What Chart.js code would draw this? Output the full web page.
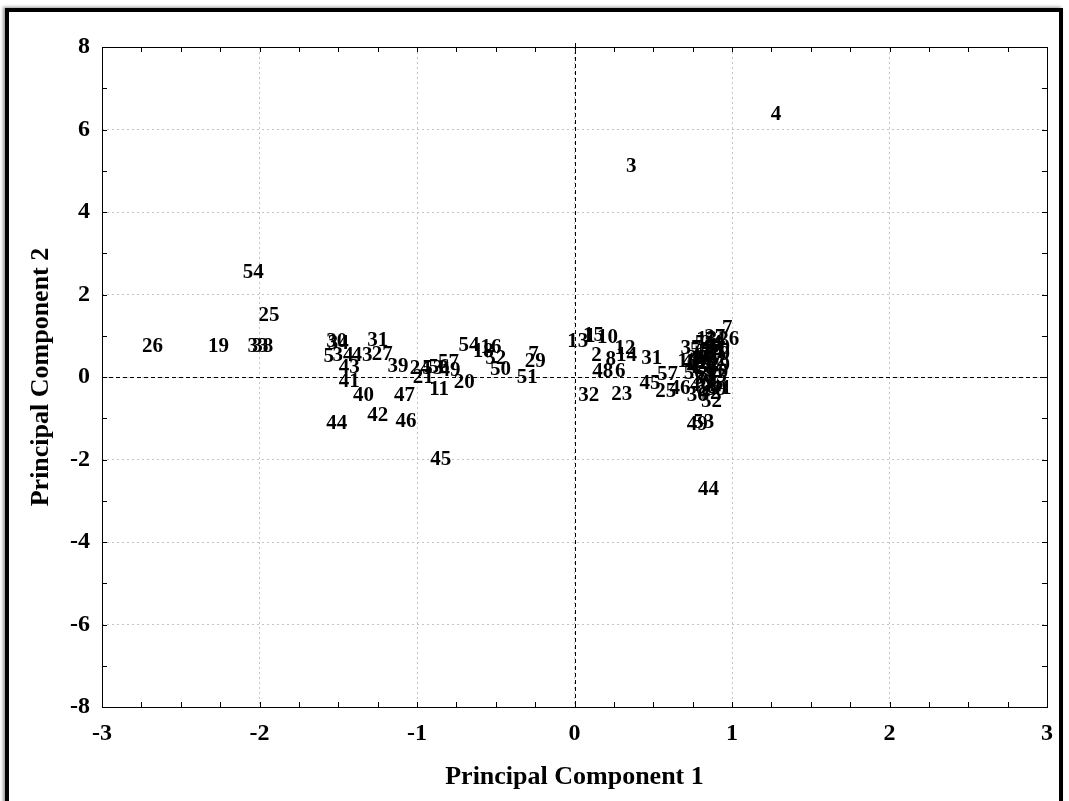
<!DOCTYPE html>
<html>
<head>
<meta charset="utf-8">
<script src="https://cdn.jsdelivr.net/npm/chart.js@4.4.1/dist/chart.umd.min.js"></script>
<style>
    html, body { margin: 0; padding: 0; background: #fff; }
    #frame {
        position: absolute; left: 5px; top: 8px; width: 1050px; height: 800px;
        border: 4px solid #000; box-shadow: -2px -1px 3px #999;
    }
    #wrap { position: absolute; left: 0; top: 0; width: 1069px; height: 801px; }
</style>
</head>
<body>
<div id="frame"></div>
<div id="wrap"><canvas id="pcaChart"></canvas></div>
<script>
// sample numbers as printed on the plot
var pointLabels = [
    "26", "19", "33", "38", "54", "25", "30", "34", "5", "34", "43", "27", "31",
    "43", "41", "40", "44", "42", "47", "46", "45", "39", "24", "21", "53", "56",
    "49", "57", "11", "20", "54", "18", "16", "52", "50", "7", "29", "51",
    "4", "3", "13", "1", "15", "10", "2", "8", "12", "14", "48", "6", "32", "23",
    "31", "45", "57", "25", "46", "7", "27", "26", "37", "18", "36", "52", "49",
    "53", "44",
    "5", "9", "11", "16", "17", "19", "20", "21", "22", "24", "28", "29", "30", "37",
    "33", "34", "35", "38", "39", "40", "41", "42", "43", "47", "50", "51", "54",
    "55", "56", "1", "10", "13", "14", "15"
];
var pc1 = [
    -2.68, -2.26, -2.01, -1.98, -2.04, -1.94, -1.51, -1.50, -1.56, -1.47, -1.35, -1.22, -1.25,
    -1.43, -1.43, -1.34, -1.51, -1.25, -1.08, -1.07, -0.85, -1.12, -0.98, -0.96, -0.90, -0.86,
    -0.79, -0.80, -0.86, -0.70, -0.67, -0.58, -0.53, -0.50, -0.47, -0.26, -0.25, -0.30,
    1.28, 0.36, 0.02, 0.10, 0.12, 0.21, 0.14, 0.23, 0.32, 0.33, 0.18, 0.29, 0.09, 0.30,
    0.49, 0.48, 0.59, 0.58, 0.67, 0.97, 0.89, 0.98, 0.74, 0.72, 0.78, 0.87, 0.78,
    0.82, 0.85,
    0.82, 0.86, 0.90, 0.84, 0.88, 0.92, 0.80, 0.85, 0.90, 0.87, 0.83, 0.92, 0.78, 0.85,
    0.90, 0.82, 0.88, 0.84, 0.90, 0.80, 0.93, 0.86, 0.78, 0.75, 0.92, 0.83, 0.89,
    0.80, 0.76, 0.86, 0.91, 0.84, 0.88, 0.81
];
var pc2 = [
    0.73, 0.73, 0.73, 0.73, 2.52, 1.48, 0.86, 0.82, 0.50, 0.53, 0.53, 0.55, 0.88,
    0.24, -0.10, -0.44, -1.14, -0.93, -0.44, -1.07, -2.00, 0.26, 0.20, -0.02, 0.20, 0.22,
    0.15, 0.35, -0.30, -0.13, 0.75, 0.62, 0.72, 0.45, 0.19, 0.55, 0.38, -0.02,
    6.35, 5.11, 0.87, 0.97, 1.00, 0.95, 0.53, 0.42, 0.68, 0.53, 0.12, 0.12, -0.44, -0.42,
    0.44, -0.16, 0.05, -0.36, -0.28, 1.17, 0.95, 0.90, 0.68, 0.38, -0.45, -0.60, -1.15,
    -1.10, -2.72,
    0.60, 0.70, 0.62, 0.48, 0.50, 0.55, 0.35, 0.32, 0.40, 0.80, 0.20, 0.28, 0.45, 0.05,
    0.00, -0.05, -0.15, -0.25, -0.30, -0.20, -0.28, -0.40, 0.22, 0.35, 0.72, 0.82, 0.88,
    0.65, 0.08, 0.15, 0.10, 0.90, 0.60, 0.45
];

var xTickValues = [-3, -2, -1, 0, 1, 2, 3];
var yTickValues = [-8, -6, -4, -2, 0, 2, 4, 6, 8];

var serif = '"Liberation Serif", "Times New Roman", serif';

var points = pc1.map(function (v, i) { return { x: v, y: pc2[i] }; });

// riquadro, tacche interne, assi dello zero e numeri dei campioni
var pcaOverlay = {
    id: "pcaOverlay",
    afterDatasetsDraw: function (chart) {
        var ctx = chart.ctx;
        var a = chart.chartArea;
        var xs = chart.scales.x, ys = chart.scales.y;
        ctx.save();
        ctx.strokeStyle = "#000";
        ctx.lineWidth = 1;

        function seg(x1, y1, x2, y2) {
            ctx.beginPath();
            ctx.moveTo(x1, y1);
            ctx.lineTo(x2, y2);
            ctx.stroke();
        }

        // dashed zero lines
        ctx.setLineDash([4, 3]);
        var x0 = Math.round(xs.getPixelForValue(0)) + 0.5;
        var y0 = Math.round(ys.getPixelForValue(0)) + 0.5;
        seg(x0, a.top - 4, x0, a.bottom);
        seg(a.left, y0, a.right, y0);
        ctx.setLineDash([]);

        // minor tick marks pointing inward on all four sides
        var t = 5;
        for (var v = -3; v <= 3.0001; v += 0.25) {
            var px = Math.round(xs.getPixelForValue(v)) + 0.5;
            seg(px, a.top, px, a.top + t);
            seg(px, a.bottom, px, a.bottom - t);
        }
        for (var w = -8; w <= 8; w += 1) {
            var py = Math.round(ys.getPixelForValue(w)) + 0.5;
            seg(a.left, py, a.left + t, py);
            seg(a.right, py, a.right - t, py);
        }

        ctx.strokeRect(Math.round(a.left) + 0.5, Math.round(a.top) + 0.5,
            Math.round(a.width), Math.round(a.height));

        // sample labels
        ctx.fillStyle = "#000";
        ctx.font = "bold 21px " + serif;
        ctx.textAlign = "center";
        ctx.textBaseline = "middle";
        var meta = chart.getDatasetMeta(0);
        meta.data.forEach(function (pt, i) {
            ctx.fillText(pointLabels[i], pt.x, pt.y);
        });
        ctx.restore();
    }
};

var chart = new Chart(document.getElementById("pcaChart"), {
    type: "scatter",
    data: {
        datasets: [{
            data: points,
            pointRadius: 0,
            pointHoverRadius: 0
        }]
    },
    options: {
        responsive: true,
        maintainAspectRatio: false,
        animation: false,
        layout: { padding: { left: 0, top: 47, right: 22, bottom: 0 } },
        plugins: {
            legend: { display: false },
            tooltip: { enabled: false }
        },
        scales: {
            x: {
                type: "linear",
                min: -3,
                max: 3,
                afterBuildTicks: function (scale) {
                    scale.ticks = xTickValues.map(function (v) { return { value: v }; });
                },
                afterFit: function (scale) { scale.height = 94; },
                ticks: {
                    color: "#000",
                    padding: 12,
                    font: { family: serif, size: 24, weight: "bold" }
                },
                grid: { color: "#c4c4c4", drawTicks: false },
                border: { display: false, dash: [2, 3] },
                title: {
                    display: true,
                    text: "Principal Component 1",
                    color: "#000",
                    font: { family: serif, size: 26, weight: "bold" },
                    padding: { top: 0, bottom: 8 }
                }
            },
            y: {
                type: "linear",
                min: -8,
                max: 8,
                afterBuildTicks: function (scale) {
                    scale.ticks = yTickValues.map(function (v) { return { value: v }; });
                },
                afterFit: function (scale) { scale.width = 102; },
                ticks: {
                    color: "#000",
                    padding: 12,
                    font: { family: serif, size: 24, weight: "bold" }
                },
                grid: { color: "#c4c4c4", drawTicks: false },
                border: { display: false, dash: [2, 3] },
                title: {
                    display: true,
                    text: "Principal Component 2",
                    color: "#000",
                    font: { family: serif, size: 26, weight: "bold" },
                    padding: { top: 26, bottom: 0 }
                }
            }
        }
    },
    plugins: [pcaOverlay]
});
</script>
</body>
</html>
